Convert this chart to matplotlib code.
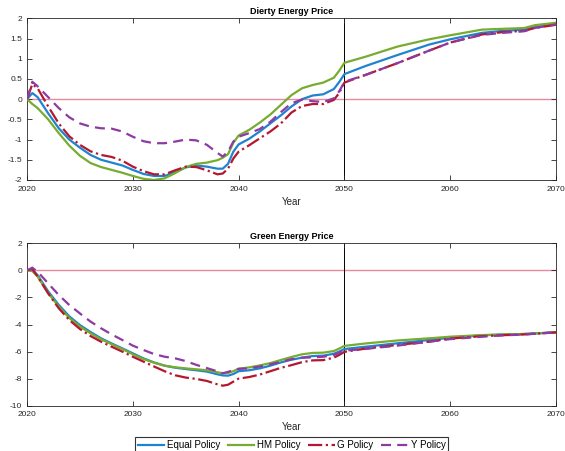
import numpy as np
import matplotlib
matplotlib.use("Agg")
import matplotlib.pyplot as plt

plt.rcParams['font.family'] = ['Liberation Sans', 'DejaVu Sans']
plt.rcParams['axes.unicode_minus'] = False

# simulation years shared by every series
years = [2020, 2020.5, 2021, 2022, 2023, 2024, 2025, 2026, 2027, 2028, 2029,
         2030, 2031, 2032, 2033, 2034, 2035, 2036, 2037, 2038, 2038.5, 2039,
         2039.5, 2040, 2041, 2042, 2043, 2044, 2045, 2046, 2047, 2048, 2049,
         2049.5, 2050, 2052, 2055, 2058, 2060, 2063, 2065, 2067, 2068, 2070]

# dirty energy price deviation
dirty_equal = [0.0, 0.15, 0.05, -0.35, -0.72, -1.0, -1.2, -1.38, -1.5, -1.57, -1.64,
               -1.75, -1.85, -1.9, -1.9, -1.81, -1.69, -1.64, -1.67, -1.72, -1.72, -1.6,
               -1.3, -1.12, -0.98, -0.8, -0.6, -0.4, -0.18, 0.0, 0.09, 0.12, 0.25,
               0.42, 0.62, 0.82, 1.09, 1.35, 1.48, 1.64, 1.69, 1.72, 1.78, 1.86]
dirty_hm = [0.0, -0.12, -0.22, -0.5, -0.84, -1.15, -1.4, -1.58, -1.68, -1.75, -1.82,
            -1.9, -1.97, -2.0, -1.96, -1.83, -1.68, -1.6, -1.57, -1.51, -1.45, -1.36,
            -1.08, -0.9, -0.76, -0.58, -0.38, -0.14, 0.1, 0.27, 0.35, 0.41, 0.53,
            0.7, 0.9, 1.05, 1.3, 1.48, 1.58, 1.72, 1.74, 1.76, 1.83, 1.89]
dirty_g = [0.0, 0.37, 0.27, -0.18, -0.6, -0.92, -1.13, -1.29, -1.38, -1.43, -1.52,
           -1.67, -1.78, -1.86, -1.86, -1.76, -1.67, -1.68, -1.76, -1.86, -1.84, -1.72,
           -1.47, -1.3, -1.14, -0.97, -0.8, -0.6, -0.33, -0.17, -0.12, -0.12, -0.02,
           0.15, 0.41, 0.6, 0.89, 1.2, 1.4, 1.6, 1.66, 1.69, 1.76, 1.84]
dirty_y = [0.0, 0.43, 0.32, 0.05, -0.22, -0.45, -0.6, -0.68, -0.72, -0.73, -0.8,
           -0.93, -1.04, -1.09, -1.09, -1.05, -1.0, -1.02, -1.13, -1.33, -1.42, -1.3,
           -1.05, -0.93, -0.84, -0.74, -0.56, -0.32, -0.1, -0.01, -0.05, -0.07, 0.02,
           0.19, 0.43, 0.6, 0.89, 1.2, 1.4, 1.59, 1.64, 1.68, 1.76, 1.85]

# green energy price deviation
green_equal = [0.0, 0.05, -0.35, -1.55, -2.55, -3.4, -4.04, -4.55, -5.02, -5.4, -5.76,
               -6.13, -6.5, -6.8, -7.04, -7.19, -7.29, -7.38, -7.48, -7.68, -7.76, -7.78,
               -7.66, -7.45, -7.38, -7.24, -7.04, -6.8, -6.6, -6.45, -6.33, -6.3, -6.16,
               -6.0, -5.81, -5.64, -5.39, -5.14, -4.98, -4.8, -4.74, -4.7, -4.66, -4.58]
green_hm = [0.0, -0.05, -0.45, -1.68, -2.68, -3.52, -4.15, -4.65, -5.09, -5.46, -5.81,
            -6.2, -6.55, -6.82, -7.04, -7.16, -7.24, -7.31, -7.38, -7.53, -7.6, -7.58,
            -7.45, -7.26, -7.17, -7.02, -6.85, -6.62, -6.4, -6.2, -6.1, -6.08, -5.96,
            -5.78, -5.58, -5.4, -5.18, -5.02, -4.9, -4.78, -4.73, -4.7, -4.66, -4.58]
green_g = [0.0, 0.1, -0.45, -1.7, -2.8, -3.67, -4.33, -4.85, -5.27, -5.64, -6.0,
           -6.38, -6.74, -7.1, -7.45, -7.75, -7.92, -8.02, -8.17, -8.42, -8.52, -8.45,
           -8.22, -8.0, -7.88, -7.7, -7.45, -7.2, -7.0, -6.78, -6.65, -6.63, -6.45,
           -6.25, -6.02, -5.78, -5.51, -5.27, -5.04, -4.86, -4.79, -4.73, -4.68, -4.58]
green_y = [0.0, 0.2, -0.1, -0.96, -1.82, -2.56, -3.18, -3.78, -4.28, -4.73, -5.14,
           -5.56, -5.88, -6.18, -6.38, -6.5, -6.7, -6.98, -7.22, -7.46, -7.6, -7.5,
           -7.36, -7.28, -7.24, -7.1, -6.94, -6.75, -6.56, -6.45, -6.43, -6.38, -6.26,
           -6.1, -5.93, -5.8, -5.56, -5.27, -5.08, -4.9, -4.8, -4.74, -4.68, -4.58]

policy_names = ['Equal Policy', 'HM Policy', 'G Policy', 'Y Policy']
colors = ['#1f83cf', '#77ac30', '#b5172f', '#8e3aa3']
styles = ['-', '-', '-.', '--']

ink = '#262626'


def draw_panel(ax, series, title, yticks, ylim):
    ax.axhline(0, color='#e68aa0', lw=1.0, zorder=1)
    ax.axvline(2050, color='black', lw=0.7, zorder=1)
    lines = []
    for vals, name, c, ls in zip(series, policy_names, colors, styles):
        if ls == '--':
            ln, = ax.plot(years, vals, color=c, lw=1.6, dashes=(4.5, 2.8), label=name, zorder=3)
        else:
            ln, = ax.plot(years, vals, color=c, lw=1.6, linestyle=ls, label=name, zorder=3)
        lines.append(ln)
    ax.set_xlim(2020, 2070)
    ax.set_ylim(*ylim)
    ax.set_xticks([2020, 2030, 2040, 2050, 2060, 2070])
    ax.set_yticks(yticks)
    ax.set_yticklabels([f'{t:g}' for t in yticks])
    ax.tick_params(direction='in', length=3.5, width=0.6, labelsize=6, colors=ink,
                   top=True, right=True)
    ax.tick_params(axis='x', pad=4)
    ax.tick_params(axis='y', pad=3.5)
    for sp in ax.spines.values():
        sp.set_color(ink)
        sp.set_linewidth(0.6)
    ax.set_title(title, fontsize=6.5, fontweight='bold', pad=3)
    ax.set_xlabel('Year', fontsize=7, color=ink, labelpad=3)
    return lines


fig = plt.figure(figsize=(5.65, 4.51), dpi=100)
ax1 = fig.add_axes([0.0478, 0.6009, 0.9363, 0.3585])
ax2 = fig.add_axes([0.0478, 0.1004, 0.9363, 0.3601])

draw_panel(ax1, [dirty_equal, dirty_hm, dirty_g, dirty_y], 'Dierty Energy Price',
           [-2, -1.5, -1, -0.5, 0, 0.5, 1, 1.5, 2], (-2, 2))
lines = draw_panel(ax2, [green_equal, green_hm, green_g, green_y], 'Green Energy Price',
                   [-10, -8, -6, -4, -2, 0, 2], (-10, 2))

leg = fig.legend(handles=lines, loc='upper center', bbox_to_anchor=(0.516, 0.031),
                 ncol=4, fontsize=7, frameon=True, fancybox=False, handlelength=2.7,
                 handletextpad=0.3, columnspacing=0.8, borderpad=0.3, borderaxespad=0)
leg.get_frame().set_edgecolor('black')
leg.get_frame().set_linewidth(0.8)

fig.savefig('out.png', dpi=100)
